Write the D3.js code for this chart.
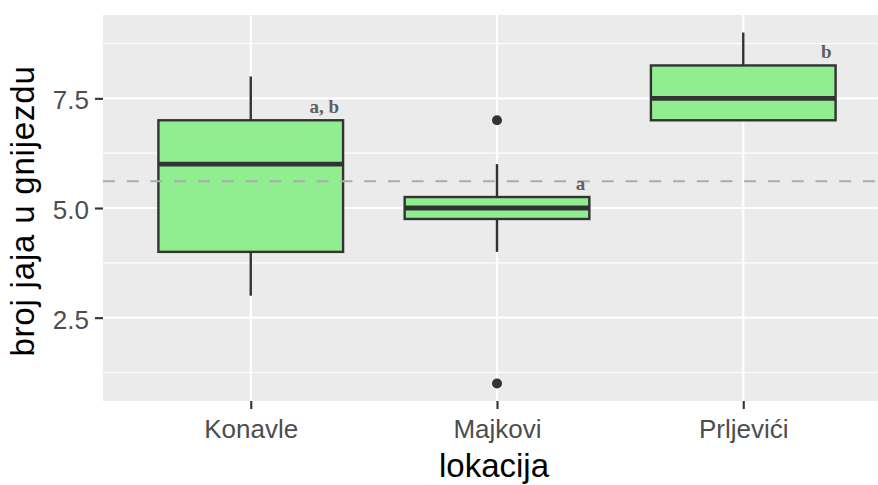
<!DOCTYPE html>
<html>
<head>
<meta charset="utf-8">
<script src="https://cdn.jsdelivr.net/npm/d3@7/dist/d3.min.js"></script>
<style>
  html, body { margin: 0; padding: 0; background: #fff; }
  svg { display: block; }
</style>
</head>
<body>
<svg id="chart" width="878" height="485"></svg>
<script>
// ---- data ----
const categories = ["Konavle", "Majkovi", "Prljevići"];
const lowerWhisker = [3, 4, 7];
const q1 = [4, 4.75, 7];
const median = [6, 5, 7.5];
const q3 = [7, 5.25, 8.25];
const upperWhisker = [8, 6, 9];
const outliers = [[], [7, 1], []];
const letters = ["a, b", "a", "b"];
const overallMean = 5.61;
const yDomain = [0.6, 9.4];
const yMajorTicks = [2.5, 5.0, 7.5];
const yMinorTicks = [1.25, 3.75, 6.25, 8.75];
const xTitle = "lokacija";
const yTitle = "broj jaja u gnijezdu";

// ---- layout ----
const W = 878, H = 485;
const panel = { left: 103, top: 15, bottom: 401, right: 891 };

const svg = d3.select("#chart");

const x = d3.scalePoint().domain(categories).range([panel.left, panel.right]).padding(0.6);
const y = d3.scaleLinear().domain(yDomain).range([panel.bottom, panel.top]);
const boxW = x.step() * 0.75;

const rows = categories.map((c, i) => ({
  cat: c, lo: lowerWhisker[i], q1: q1[i], med: median[i], q3: q3[i], hi: upperWhisker[i],
  out: outliers[i], letter: letters[i]
}));

// panel background
svg.append("rect")
  .attr("x", panel.left).attr("y", panel.top)
  .attr("width", panel.right - panel.left).attr("height", panel.bottom - panel.top)
  .attr("fill", "#EBEBEB");

const grid = svg.append("g");
grid.selectAll("line.minor").data(yMinorTicks).join("line")
  .attr("x1", panel.left).attr("x2", panel.right)
  .attr("y1", d => y(d)).attr("y2", d => y(d))
  .attr("stroke", "#fff").attr("stroke-width", 1.1);
grid.selectAll("line.majorY").data(yMajorTicks).join("line")
  .attr("x1", panel.left).attr("x2", panel.right)
  .attr("y1", d => y(d)).attr("y2", d => y(d))
  .attr("stroke", "#fff").attr("stroke-width", 2.1);
grid.selectAll("line.majorX").data(categories).join("line")
  .attr("x1", d => x(d)).attr("x2", d => x(d))
  .attr("y1", panel.top).attr("y2", panel.bottom)
  .attr("stroke", "#fff").attr("stroke-width", 2.1);

// boxplots
const g = svg.append("g");
const box = g.selectAll("g.box").data(rows).join("g");
box.append("line") // upper whisker
  .attr("x1", d => x(d.cat)).attr("x2", d => x(d.cat))
  .attr("y1", d => y(d.q3)).attr("y2", d => y(d.hi))
  .attr("stroke", "#333").attr("stroke-width", 2.4);
box.append("line") // lower whisker
  .attr("x1", d => x(d.cat)).attr("x2", d => x(d.cat))
  .attr("y1", d => y(d.q1)).attr("y2", d => y(d.lo))
  .attr("stroke", "#333").attr("stroke-width", 2.4);
box.append("rect")
  .attr("x", d => x(d.cat) - boxW / 2).attr("width", boxW)
  .attr("y", d => y(d.q3)).attr("height", d => y(d.q1) - y(d.q3))
  .attr("fill", "#90EE90").attr("stroke", "#333").attr("stroke-width", 2.4);
box.append("line") // median
  .attr("x1", d => x(d.cat) - boxW / 2).attr("x2", d => x(d.cat) + boxW / 2)
  .attr("y1", d => y(d.med)).attr("y2", d => y(d.med))
  .attr("stroke", "#333").attr("stroke-width", 4.8);
box.selectAll("circle").data(d => d.out.map(v => ({ cat: d.cat, v }))).join("circle")
  .attr("cx", d => x(d.cat)).attr("cy", d => y(d.v)).attr("r", 5)
  .attr("fill", "#333");

// mean dashed line (on top)
svg.append("line")
  .attr("x1", panel.left).attr("x2", panel.right)
  .attr("y1", y(overallMean)).attr("y2", y(overallMean))
  .attr("stroke", "#ABABAB").attr("stroke-width", 2.2)
  .attr("stroke-dasharray", "11.9,11.85");

// significance letters
svg.append("g").selectAll("text").data(rows).join("text")
  .attr("x", d => x(d.cat) + boxW / 2 - 4)
  .attr("y", d => y(d.q3) - 7)
  .attr("text-anchor", "end")
  .attr("font-family", "'Liberation Serif', 'DejaVu Serif', serif")
  .attr("font-weight", "bold")
  .attr("font-size", 19)
  .attr("fill", "#5f5f5f")
  .text(d => d.letter);

// axes
const yAxis = d3.axisLeft(y).tickValues(yMajorTicks).tickFormat(d3.format(".1f")).tickSize(8).tickPadding(6);
const gy = svg.append("g").attr("transform", `translate(${panel.left},0)`).call(yAxis);
gy.select(".domain").remove();
gy.selectAll(".tick line").attr("stroke", "#333").attr("stroke-width", 2.1);
gy.selectAll(".tick text")
  .attr("fill", "#4D4D4D").attr("font-size", 26)
  .attr("font-family", "'Liberation Sans', Arial, sans-serif")
  .attr("dy", "0.4em");

const xAxis = d3.axisBottom(x).tickSize(8).tickPadding(10);
const gx = svg.append("g").attr("transform", `translate(0,${panel.bottom})`).call(xAxis);
gx.select(".domain").remove();
gx.selectAll(".tick line").attr("stroke", "#333").attr("stroke-width", 2.1);
gx.selectAll(".tick text")
  .attr("fill", "#4D4D4D").attr("font-size", 26)
  .attr("font-family", "'Liberation Sans', Arial, sans-serif")
  .attr("dy", "0.72em");

// titles
svg.append("text")
  .attr("x", 494).attr("y", 477)
  .attr("text-anchor", "middle")
  .attr("font-family", "'Liberation Sans', Arial, sans-serif")
  .attr("font-size", 33).attr("fill", "#000")
  .text(xTitle);
svg.append("text")
  .attr("transform", `translate(34,${(panel.top + panel.bottom) / 2 + 3}) rotate(-90)`)
  .attr("text-anchor", "middle")
  .attr("font-family", "'Liberation Sans', Arial, sans-serif")
  .attr("font-size", 33).attr("letter-spacing", "0.8px").attr("fill", "#000")
  .text(yTitle);
</script>
</body>
</html>
